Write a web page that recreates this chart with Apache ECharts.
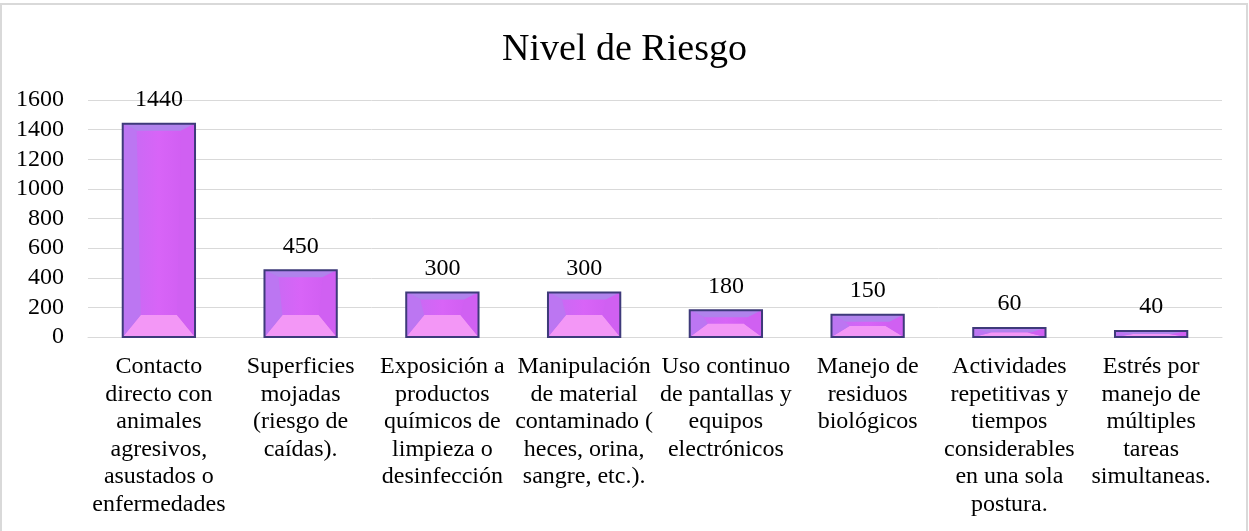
<!DOCTYPE html>
<html>
<head>
<meta charset="utf-8">
<script src="https://cdn.jsdelivr.net/npm/echarts@6/dist/echarts.min.js"></script>
<style>
  html, body { margin: 0; padding: 0; background: #fff; }
  #chart { width: 1249px; height: 531px; }
</style>
</head>
<body>
<div id="chart"></div>
<script>
var categories = [
  'Contacto\ndirecto con\nanimales\nagresivos,\nasustados o\nenfermedades',
  'Superficies\nmojadas\n(riesgo de\ncaídas).',
  'Exposición a\nproductos\nquímicos de\nlimpieza o\ndesinfección',
  'Manipulación\nde material\ncontaminado (\nheces, orina,\nsangre, etc.).',
  'Uso continuo\nde pantallas y\nequipos\nelectrónicos',
  'Manejo de\nresiduos\nbiológicos',
  'Actividades\nrepetitivas y\ntiempos\nconsiderables\nen una sola\npostura.',
  'Estrés por\nmanejo de\nmúltiples\ntareas\nsimultaneas.'
];
var values = [1440, 450, 300, 300, 180, 150, 60, 40];
var yMin = 0, yMax = 1600, yStep = 200;

var serif = '"Liberation Serif", "DejaVu Serif", serif';
var chart = echarts.init(document.getElementById('chart'));

// barra con bisel, dibujada con las coordenadas del eje
function renderBar(params, api) {
  var top = api.coord([api.value(0), api.value(1)]);
  var base = api.coord([api.value(0), 0]);
  var w = api.size([1, 0])[0] * 0.51;
  var x0 = top[0] - w / 2, x1 = top[0] + w / 2;
  var y0 = top[1], y1 = base[1];
  var h = y1 - y0;
  var bt = Math.min(7, h / 2), bb = Math.min(22, h / 2);
  var ins = Math.min(14, w / 2);
  var ix0 = x0 + ins, ix1 = x1 - ins, iy0 = y0 + bt, iy1 = y1 - bb;
  return {
    type: 'group',
    children: [
      { type: 'rect', shape: { x: x0, y: y0, width: w, height: h },
        style: { fill: new echarts.graphic.LinearGradient(0, 0, 1, 0, [
          { offset: 0, color: '#C36CF3' }, { offset: 0.5, color: '#D864F7' }, { offset: 1, color: '#CD5CF0' }]) } },
      { type: 'polygon', shape: { points: [[x0, y0], [x1, y0], [ix1, iy0], [ix0, iy0]] },
        style: { fill: '#B083EC' } },
      { type: 'polygon', shape: { points: [[x0, y1], [x1, y1], [ix1 - 4, iy1], [ix0 + 4, iy1]] },
        style: { fill: '#F397F6' } },
      { type: 'polygon', shape: { points: [[x0, y0], [ix0, iy0], [ix0 + 4, iy1], [x0, y1]] },
        style: { fill: '#BC76F2' } },
      { type: 'polygon', shape: { points: [[x1, y0], [ix1, iy0], [ix1 - 4, iy1], [x1, y1]] },
        style: { fill: '#D060F2' } },
      { type: 'rect', shape: { x: x0, y: y0, width: w, height: h },
        style: { fill: null, stroke: '#3E3A7A', lineWidth: 2 } },
      { type: 'text', style: { text: String(api.value(1)), x: top[0], y: y0 - 24,
        align: 'center', verticalAlign: 'middle', fontSize: 24, fontFamily: serif, fill: '#000' } }
    ]
  };
}

var option = {
  backgroundColor: '#fff',
  animation: false,
  title: {
    text: 'Nivel de Riesgo',
    left: 'center',
    top: 26,
    textStyle: { fontFamily: serif, fontSize: 38, fontWeight: 'normal', color: '#000' }
  },
  graphic: [{
    type: 'rect', z: -1,
    shape: { x: 1, y: 4, width: 1246, height: 600 },
    style: { fill: null, stroke: '#D9D9D9', lineWidth: 2 }
  }],
  grid: { left: 88, right: 27, top: 100, bottom: 194 },
  xAxis: {
    type: 'category',
    data: categories,
    axisLine: { lineStyle: { color: '#D9D9D9', width: 1 } },
    axisTick: { show: false },
    axisLabel: { interval: 0, margin: 16, fontFamily: serif, fontSize: 24, lineHeight: 27.6, color: '#000' }
  },
  yAxis: {
    type: 'value',
    min: yMin, max: yMax, interval: yStep,
    axisLine: { show: false },
    axisTick: { show: false },
    splitLine: { lineStyle: { color: '#D9D9D9', width: 1 } },
    axisLabel: { margin: 24, fontFamily: serif, fontSize: 24, color: '#000',
      formatter: function (v) { return String(v); } }
  },
  series: [{
    type: 'custom',
    renderItem: renderBar,
    encode: { x: 0, y: 1 },
    data: categories.map(function (c, i) { return [i, values[i]]; })
  }]
};
chart.setOption(option);
</script>
</body>
</html>
